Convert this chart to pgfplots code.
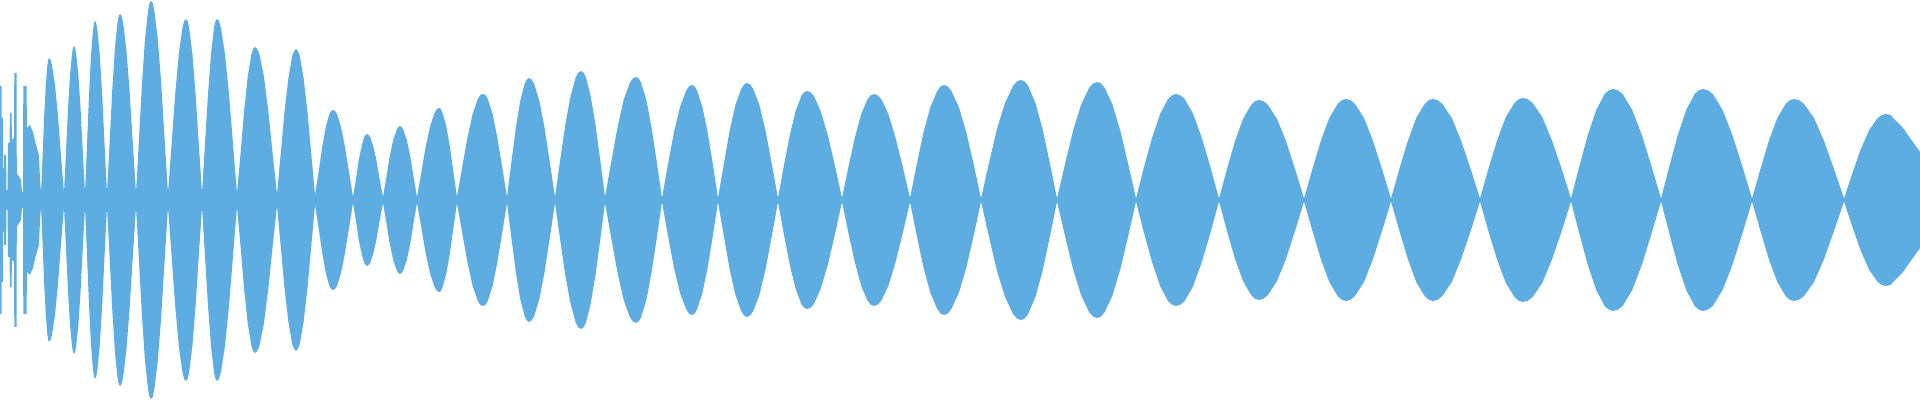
\documentclass[border=0pt]{standalone}
\usepackage{pgfplots}
\usepackage{pgfplotstable}
\pgfplotsset{compat=1.18}
\usepgfplotslibrary{fillbetween}
\definecolor{wave}{HTML}{5DADE2}
\pgfplotstableread{
x h
0 114
1.5 114
1.6 82
3 82
3.1 32
4 32
4.1 45
6 45
6.5 10
7.5 10
8 57
9.5 57
10 87
11.5 87
12 60
14 62
14.3 127
16.5 127
16.8 27
21 20
22 8
23 8
23.3 114
26.5 114
27 72
30 75
33 68
36 55
39 45
40 20
41 7
42.6 44
44.2 84
45.8 115
47.4 135
48.2 140
49 142
50.5 140
52 135
55 115
58 84
61 44
64 7
66 48
68 91
70 125
72 146
73 152
74 154
75.1 152
76.2 146
78.4 125
80.6 91
82.8 48
85 7
87 55
89 105
91 145
93 170
94 177
95 179
96.2 177
97.4 170
99.8 145
102.2 105
104.6 55
107 7
109.6 57
112.2 109
114.8 150
117.4 177
118.7 184
120 186
121.6 184
123.2 177
126.4 150
129.6 109
132.8 57
136 7
139 61
142 117
145 161
148 189
149.5 197
151 199
152.7 197
154.4 189
157.8 161
161.2 117
164.6 61
168 7
171.6 56
175.2 106
178.8 146
182.4 172
184.2 179
186 181
187.6 179
189.2 172
192.4 146
195.6 106
198.8 56
202 7
205 56
208 106
211 146
214 172
215.5 179
217 181
219 179
221 172
225 146
229 106
233 56
237 7
240.6 47
244.2 90
247.8 124
251.4 146
253.2 151
255 153
257.2 151
259.4 146
263.8 124
268.2 90
272.6 47
277 6
280.8 47
284.6 89
288.4 122
292.2 144
294.1 149
296 151
297.9 149
299.8 144
303.6 122
307.4 89
311.2 47
315 5
318.6 28
322.2 53
325.8 73
329.4 86
331.2 89
333 90
335 89
337 86
341 73
345 53
349 28
353 3
355.8 20
358.6 39
361.4 53
364.2 63
365.6 65
367 66
368.6 65
370.2 63
373.4 53
376.6 39
379.8 20
383 3
386.4 23
389.8 44
393.2 60
396.6 70
398.3 73
400 74
401.7 73
403.4 70
406.8 60
410.2 44
413.6 23
417 3
421.4 28
425.8 54
430.2 74
434.6 87
436.8 91
439 92
440.8 91
442.6 87
446.2 74
449.8 54
453.4 28
457 3
462.2 33
467.4 62
472.6 86
477.8 101
480.4 105
483 106
485.4 105
487.8 101
492.6 86
497.4 62
502.2 33
507 3
511.4 38
515.8 72
520.2 99
524.6 116
526.8 120.5
529 122
531.6 120.5
534.2 116
539.4 99
544.6 72
549.8 38
555 3
560.2 40
565.4 76
570.6 104
575.8 123
578.4 127.5
581 129
583.4 127.5
585.8 123
590.6 104
595.4 76
600.2 40
605 3
611.2 38
617.4 72
623.6 100
629.8 117
632.9 121.5
636 123
638.6 121.5
641.2 117
646.4 100
651.6 72
656.8 38
662 2
668 36
674 68
680 93
686 109
689 113.6
692 115
694.6 113.6
697.2 109
702.4 93
707.6 68
712.8 36
718 2
723.8 36
729.6 69
735.4 95
741.2 111
744.1 115.6
747 117
750.1 115.6
753.2 111
759.4 95
765.6 69
771.8 36
778 2
783.8 34
789.6 64
795.4 88
801.2 104
804.1 107.7
807 109
810.5 107.7
814 104
821 88
828 64
835 34
842 2
848.4 33
854.8 62
861.2 86
867.6 101
870.8 104.7
874 106
877.6 104.7
881.2 101
888.4 86
895.6 62
902.8 33
910 2
916.8 36
923.6 68
930.4 93
937.2 109
940.6 113.6
944 115
947.7 113.6
951.4 109
958.8 93
966.2 68
973.6 36
981 1.5
989 37
997 71
1005 97
1013 114
1017 118.6
1021 120
1024.6 118.6
1028.2 114
1035.4 97
1042.6 71
1049.8 37
1057 1.5
1065 36
1073 69
1081 95
1089 112
1093 116.6
1097 118
1100.9 116.6
1104.8 112
1112.6 95
1120.4 69
1128.2 36
1136 1.5
1144 33
1152 62
1160 86
1168 101
1172 104.7
1176 106
1180.3 104.7
1184.6 101
1193.2 86
1201.8 62
1210.4 33
1219 1.5
1227 31
1235 59
1243 81
1251 95
1255 98.8
1259 100
1263.5 98.8
1268 95
1277 81
1286 59
1295 31
1304 1.5
1312.4 31
1320.8 59
1329.2 82
1337.6 96
1341.8 99.8
1346 101
1350.5 99.8
1355 96
1364 82
1373 59
1382 31
1391 1.5
1399.4 31
1407.8 59
1416.2 82
1424.6 96
1428.8 99.8
1433 101
1437.7 99.8
1442.4 96
1451.8 82
1461.2 59
1470.6 31
1480 1.5
1488.6 32
1497.2 60
1505.8 83
1514.4 97
1518.7 100.8
1523 102
1527.8 100.8
1532.6 97
1542.2 83
1551.8 60
1561.4 32
1571 1.5
1579.4 34
1587.8 65
1596.2 90
1604.6 106
1608.8 109.7
1613 111
1617.8 109.7
1622.6 106
1632.2 90
1641.8 65
1651.4 34
1661 1.5
1669.4 34
1677.8 65
1686.2 90
1694.6 106
1698.8 109.7
1703 111
1707.9 109.7
1712.8 106
1722.6 90
1732.4 65
1742.2 34
1752 1.5
1760.4 31
1768.8 59
1777.2 82
1785.6 96
1789.8 99.8
1794 101
1799 99.8
1804 96
1814 82
1824 59
1834 31
1844 1.5
1852.4 27
1860.8 51
1869.2 70
1877.6 82
1881.8 85
1886 86
1890.5 85
1895 80
1903 72
1910 62
1920 48
}\envtab
\begin{document}
\begin{tikzpicture}
\begin{axis}[
  width=19.2cm, height=4cm, scale only axis,
  xmin=0, xmax=1920, ymin=-200, ymax=200,
  hide axis, clip=true,
]
\path[draw=none] (rel axis cs:0,0) rectangle (rel axis cs:1,1);
\addplot[draw=none, name path=U, forget plot] table[x=x, y=h] {\envtab};
\addplot[draw=none, name path=L, forget plot] table[x=x, y expr=-\thisrow{h}] {\envtab};
\addplot[fill=wave, draw=none] fill between[of=U and L];
\end{axis}
\end{tikzpicture}
\end{document}
